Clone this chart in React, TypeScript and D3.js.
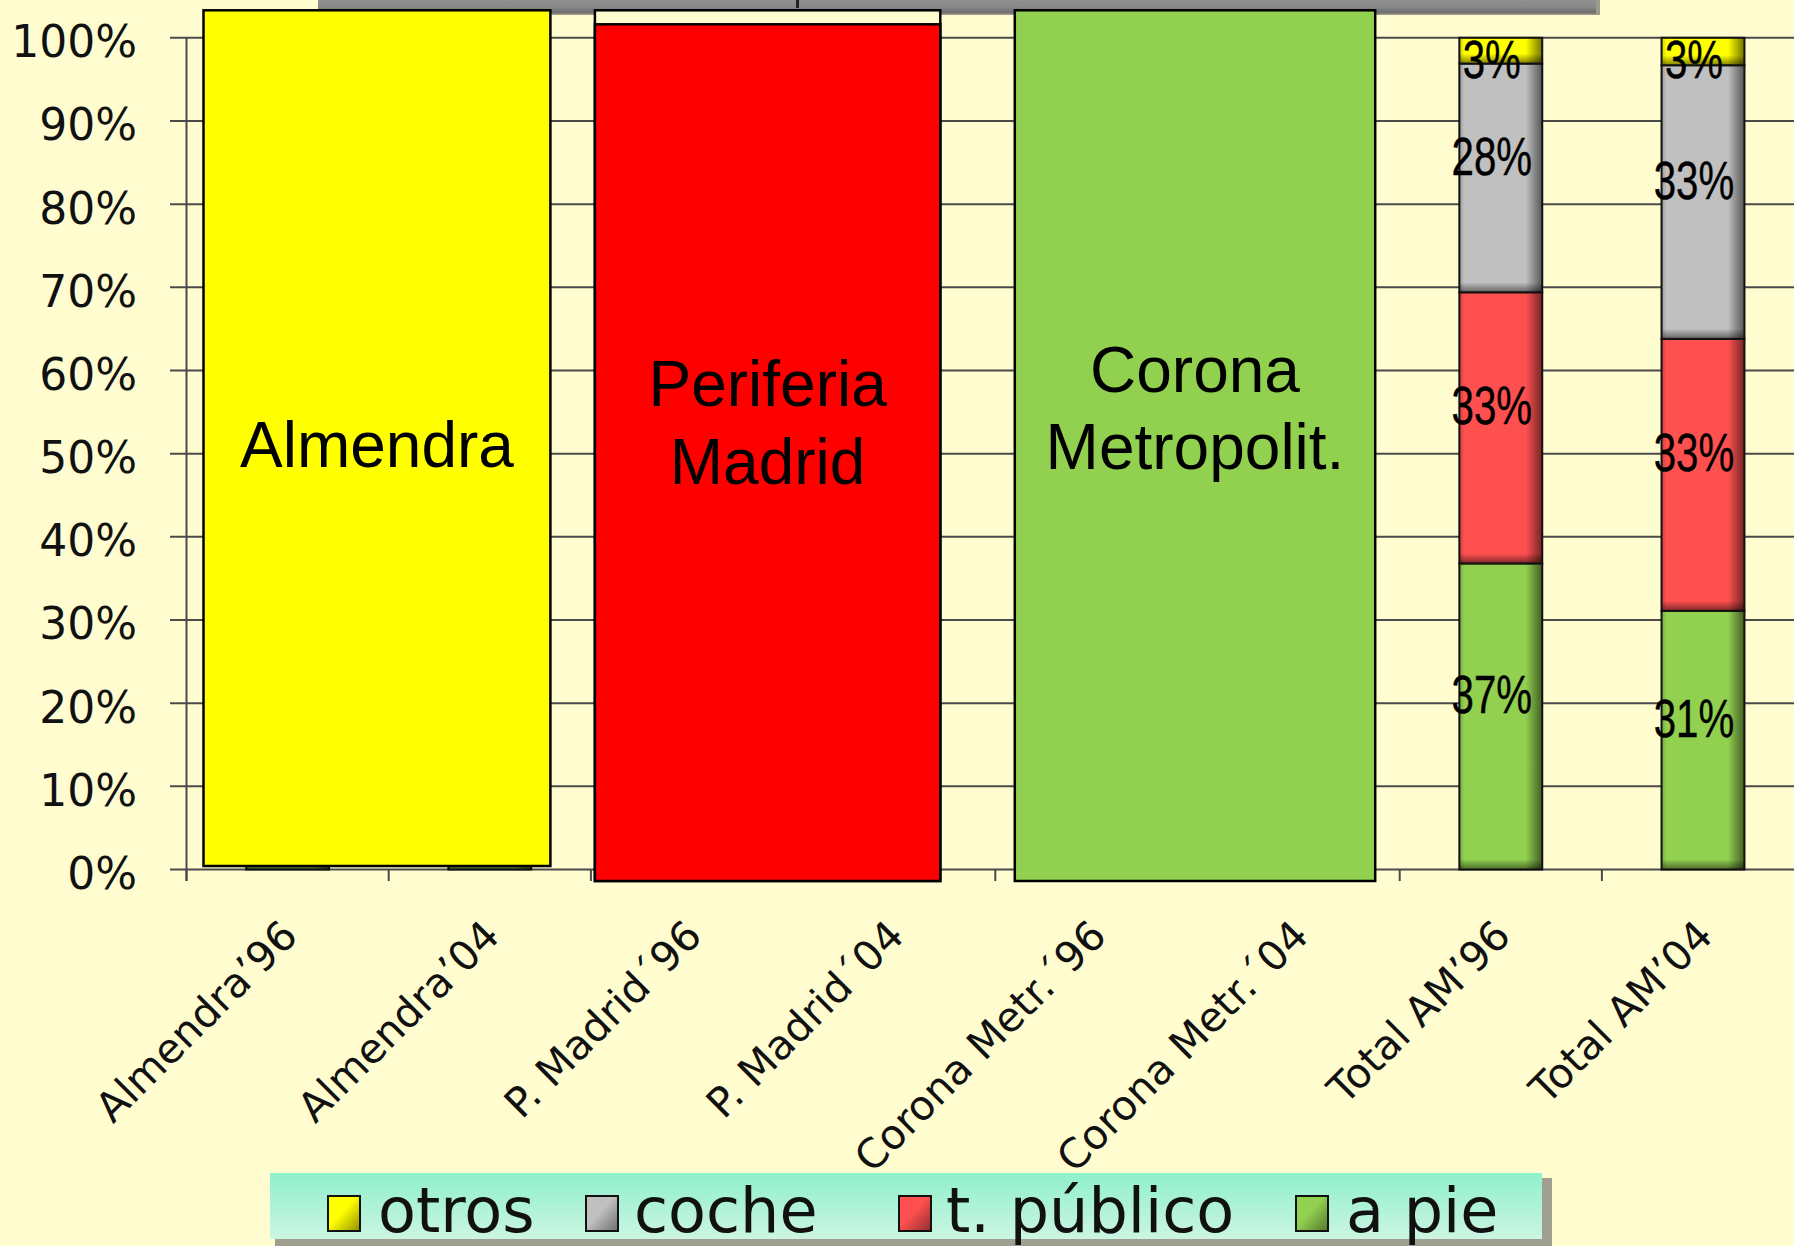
import React from 'react';
import * as d3 from 'd3';

const categories = [
  "Almendra’96",
  "Almendra’04",
  "P. Madrid´96",
  "P. Madrid´04",
  "Corona Metr.´96",
  "Corona Metr.´04",
  "Total AM’96",
  "Total AM’04",
];
// Hidden bars (first six) are covered by the overlay boxes in the original
const aPie = [46, 44, 38, 31, 28, 22, 36.8, 31.1];
const tPublico = [41, 40, 36, 36, 20, 18, 32.6, 32.7];
const coche = [11, 14, 24, 30, 48, 56, 27.5, 32.9];
const otros = [2, 2, 2, 3, 4, 4, 3.1, 3.3];

const seriesKeys = ['aPie', 'tPublico', 'coche', 'otros'];
const seriesColors: Record<string, string> = {
  otros: '#FFFF00',
  coche: '#C0C0C0',
  tPublico: '#FF5050',
  aPie: '#92D050',
};
const legendItems = [
  { key: 'otros', label: 'otros' },
  { key: 'coche', label: 'coche' },
  { key: 'tPublico', label: 't. público' },
  { key: 'aPie', label: 'a pie' },
];
const yTicks = [0, 10, 20, 30, 40, 50, 60, 70, 80, 90, 100];

const overlays = [
  { color: '#FFFF00', lines: ['Almendra'] },
  { color: '#FF0000', lines: ['Periferia', 'Madrid'] },
  { color: '#92D050', lines: ['Corona', 'Metropolit.'] },
];

const W = 1794;
const H = 1246;
const BG = '#FFFDD0';

export default function App() {
  const rows = categories.map((c, i) => ({
    cat: c,
    aPie: aPie[i],
    tPublico: tPublico[i],
    coche: coche[i],
    otros: otros[i],
  }));
  const stack = d3.stack<any>().keys(seriesKeys);
  const stacked = stack(rows);

  const x0 = 186.5;
  const band = 202.2;
  const x = d3
    .scaleBand<string>()
    .domain(categories)
    .range([x0, x0 + band * categories.length])
    .padding(0);
  const y = d3.scaleLinear().domain([0, 100]).range([869.5, 37.8]);
  const barW = x.bandwidth() * 0.41;
  const yBase = y(0);

  const overlayGeom = [
    { x1: x(categories[0])! + 17, x2: x(categories[1])! + band - 40.5, y1: y(100) - 27.5, y2: yBase - 3.5 },
    { x1: x(categories[2])! + 4, x2: x(categories[3])! + band - 55, y1: y(100) - 27.5, y2: yBase + 11.5 },
    { x1: x(categories[4])! + 19.5, x2: x(categories[5])! + band - 24.5, y1: y(100) - 27.5, y2: yBase + 11.5 },
  ];
  const overlayText = [
    { baselines: [467] },
    { baselines: [406, 484] },
    { baselines: [392, 469] },
  ];

  const legendPos = [
    { mx: 328, tx: 378 },
    { mx: 586, tx: 634 },
    { mx: 899, tx: 946 },
    { mx: 1296, tx: 1346 },
  ];

  return (
    <div style={{ position: 'fixed', left: 0, top: 0, width: W, height: H, background: BG }}>
      <svg width={W} height={H} viewBox={`0 0 ${W} ${H}`} style={{ display: 'block' }}>
        <defs>
          <linearGradient id="shadeR" x1="0" y1="0" x2="1" y2="0">
            <stop offset="0" stopColor="#000" stopOpacity="0.2" />
            <stop offset="0.06" stopColor="#000" stopOpacity="0" />
            <stop offset="0.8" stopColor="#000" stopOpacity="0" />
            <stop offset="1" stopColor="#000" stopOpacity="0.55" />
          </linearGradient>
          <linearGradient id="shadeB" x1="0" y1="0" x2="0" y2="1">
            <stop offset="0" stopColor="#000" stopOpacity="0" />
            <stop offset="1" stopColor="#000" stopOpacity="0.5" />
          </linearGradient>
          <linearGradient id="titleGrad" x1="0" y1="0" x2="0" y2="1">
            <stop offset="0" stopColor="#9a9a9a" />
            <stop offset="0.7" stopColor="#8a8a8a" />
            <stop offset="1" stopColor="#6a6a6a" />
          </linearGradient>
          <linearGradient id="legendGrad" x1="0" y1="0" x2="0" y2="1">
            <stop offset="0" stopColor="#8FF0CB" />
            <stop offset="1" stopColor="#CCF5E2" />
          </linearGradient>
          {legendItems.map((it) => (
            <linearGradient key={it.key} id={`lg-${it.key}`} x1="0" y1="0" x2="1" y2="1">
              <stop offset="0" stopColor={seriesColors[it.key]} />
              <stop offset="0.45" stopColor={seriesColors[it.key]} />
              <stop offset="1" stopColor={d3.color(seriesColors[it.key])!.darker(1.6).toString()} />
            </linearGradient>
          ))}
        </defs>
        <rect x={0} y={0} width={W} height={H} fill={BG} />

        {/* gray title box cut at top */}
        <rect x={322} y={-10} width={1278} height={25} fill="#5a5a5a" opacity={0.6} />
        <rect x={318} y={-10} width={1278} height={23.5} fill="url(#titleGrad)" />
        <rect x={796} y={0} width={3} height={8} fill="#222" />

        {/* gridlines */}
        {yTicks.map((t) => (
          <line key={t} x1={170} x2={W} y1={y(t)} y2={y(t)} stroke="#4a4a4a" strokeWidth={2} />
        ))}
        {/* y axis */}
        <line x1={x0} x2={x0} y1={y(100)} y2={yBase + 11.5} stroke="#4a4a4a" strokeWidth={2} />
        {/* x ticks */}
        {categories.map((c) => (
          <line key={c} x1={x(c)!} x2={x(c)!} y1={yBase} y2={yBase + 11.5} stroke="#4a4a4a" strokeWidth={2} />
        ))}
        <line x1={x0 + band * 8} x2={x0 + band * 8} y1={yBase} y2={yBase + 11.5} stroke="#4a4a4a" strokeWidth={2} />

        {/* y tick labels */}
        {yTicks.map((t) => (
          <text
            key={t}
            x={137}
            y={y(t) + 4}
            textAnchor="end"
            dominantBaseline="central"
            fontFamily="'DejaVu Sans', sans-serif"
            fontSize={44}
            fill="#111"
          >
            {t}%
          </text>
        ))}

        {/* stacked bars */}
        {stacked.map((s) =>
          s.map((d, i) => {
            const cx = x(categories[i])! + x.bandwidth() / 2;
            const bx = cx - barW / 2;
            const y1 = y(d[1]);
            const y2 = y(d[0]);
            const h = y2 - y1;
            return (
              <g key={s.key + i}>
                <rect x={bx} y={y1} width={barW} height={h} fill={seriesColors[s.key]} />
                <rect x={bx} y={y1} width={barW} height={h} fill="url(#shadeR)" />
                <rect x={bx} y={y2 - Math.min(10, h)} width={barW} height={Math.min(10, h)} fill="url(#shadeB)" />
                <rect x={bx} y={y1} width={barW} height={h} fill="none" stroke="#111" strokeWidth={2} />
              </g>
            );
          })
        )}
        {/* data labels */}
        {stacked.map((s) =>
          s.map((d, i) => {
            const cx = x(categories[i])! + x.bandwidth() / 2 - 9;
            const v = d[1] - d[0];
            const cy = (y(d[0]) + y(d[1])) / 2;
            const ly = s.key === 'otros' ? y(d[1]) + 22 : cy - 22;
            return (
              <text
                key={'l' + s.key + i}
                transform={`translate(${cx},${ly}) scale(0.76,1)`}
                textAnchor="middle"
                dominantBaseline="central"
                fontFamily="'Liberation Sans', Arial, sans-serif"
                fontSize={53}
                fill="#000"
                stroke="#000"
                strokeWidth={0.4}
              >
                {Math.round(v)}%
              </text>
            );
          })
        )}

        {/* overlay boxes */}
        {overlays.map((o, k) => {
          const g = overlayGeom[k];
          const cx = (g.x1 + g.x2) / 2;
          return (
            <g key={k}>
              {k === 1 ? (
                <>
                  <rect x={g.x1} y={g.y1} width={g.x2 - g.x1} height={g.y2 - g.y1} fill={BG} stroke="#000" strokeWidth={2.5} />
                  <rect x={g.x1} y={g.y1 + 14} width={g.x2 - g.x1} height={g.y2 - g.y1 - 14} fill={o.color} stroke="#000" strokeWidth={2.5} />
                </>
              ) : (
                <rect x={g.x1} y={g.y1} width={g.x2 - g.x1} height={g.y2 - g.y1} fill={o.color} stroke="#000" strokeWidth={2.5} />
              )}
              {o.lines.map((ln, j) => (
                <text
                  key={j}
                  x={cx}
                  y={overlayText[k].baselines[j]}
                  textAnchor="middle"
                  fontFamily="'Liberation Sans', Arial, sans-serif"
                  fontSize={64}
                  fill="#000"
                >
                  {ln}
                </text>
              ))}
            </g>
          );
        })}

        {/* x labels */}
        {categories.map((c) => {
          const cx = x(c)! + x.bandwidth() / 2 + 12;
          return (
            <text
              key={'x' + c}
              transform={`translate(${cx},938) rotate(-45)`}
              textAnchor="end"
              fontFamily="'DejaVu Sans', sans-serif"
              fontSize={41}
              fill="#111"
            >
              {c}
            </text>
          );
        })}

        {/* legend */}
        <rect x={275} y={1178} width={1277} height={70} fill="#777" opacity={0.7} />
        <rect x={270} y={1173} width={1272} height={66} fill="url(#legendGrad)" />
        {legendItems.map((it, k) => (
          <g key={it.key}>
            <rect x={legendPos[k].mx} y={1196} width={32} height={35} fill={`url(#lg-${it.key})`} stroke="#111" strokeWidth={2} />
            <text
              x={legendPos[k].tx}
              y={1232}
              fontFamily="'DejaVu Sans', sans-serif"
              fontSize={62}
              fill="#111"
            >
              {it.label}
            </text>
          </g>
        ))}
      </svg>
    </div>
  );
}
